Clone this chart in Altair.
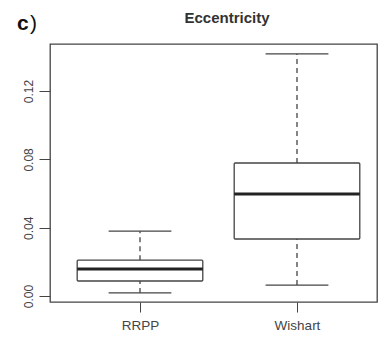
import altair as alt
import pandas as pd

groups = ["RRPP", "Wishart"]
positions = [1, 2]
lower = [0.0018, 0.0064]
q1 = [0.0088, 0.0334]
median = [0.0158, 0.0598]
q3 = [0.0210, 0.0779]
upper = [0.0380, 0.1418]
y_ticks = [0.00, 0.02, 0.04, 0.06, 0.08, 0.10, 0.12, 0.14]

df = pd.DataFrame({"group": groups, "pos": positions, "lower": lower, "q1": q1,
                   "median": median, "q3": q3, "upper": upper})

FONT = "Liberation Sans"
LINE = "#444444"

xscale = alt.Scale(domain=[0.4268, 2.5096], nice=False, zero=False)
yscale = alt.Scale(domain=[-0.0035, 0.1476], nice=False, zero=False)

base = alt.Chart(df).transform_calculate(
    bl="datum.pos - 0.4", br="datum.pos + 0.4",
    cl="datum.pos - 0.2", cr="datum.pos + 0.2")

xaxis = alt.Axis(values=positions, labelExpr="datum.value == 1 ? 'RRPP' : 'Wishart'",
                 title=None, grid=False, domain=False, tickSize=10, tickColor=LINE,
                 labelFont=FONT, labelFontSize=13.5, labelColor="#444", labelPadding=6)
yaxis = alt.Axis(values=y_ticks, labelExpr="(round(datum.value*100) % 4 == 0) ? format(datum.value, '.2f') : ''",
                 title=None, grid=False, domain=False, tickSize=11, tickColor=LINE,
                 labelAngle=270, labelAlign="center", labelBaseline="bottom",
                 labelFont=FONT, labelFontSize=12, labelColor="#444", labelPadding=4)

axes = base.mark_point(opacity=0).encode(
    x=alt.X("pos:Q", scale=xscale, axis=xaxis),
    y=alt.Y("median:Q", scale=yscale, axis=yaxis))

whisk_up = base.mark_rule(color=LINE, strokeWidth=1.3, strokeDash=[5, 4]).encode(
    x=alt.X("pos:Q", scale=xscale), y=alt.Y("q3:Q", scale=yscale), y2="upper:Q")
whisk_lo = base.mark_rule(color=LINE, strokeWidth=1.3, strokeDash=[5, 4]).encode(
    x=alt.X("pos:Q", scale=xscale), y=alt.Y("lower:Q", scale=yscale), y2="q1:Q")
cap_up = base.mark_rule(color=LINE, strokeWidth=1.3).encode(
    x=alt.X("cl:Q", scale=xscale), x2="cr:Q", y=alt.Y("upper:Q", scale=yscale))
cap_lo = base.mark_rule(color=LINE, strokeWidth=1.3).encode(
    x=alt.X("cl:Q", scale=xscale), x2="cr:Q", y=alt.Y("lower:Q", scale=yscale))
box = base.mark_rect(fill="white", stroke=LINE, strokeWidth=1.3, cornerRadius=1).encode(
    x=alt.X("bl:Q", scale=xscale), x2="br:Q",
    y=alt.Y("q1:Q", scale=yscale), y2="q3:Q")
med = base.mark_rule(color="#222222", strokeWidth=3).encode(
    x=alt.X("bl:Q", scale=xscale), x2="br:Q", y=alt.Y("median:Q", scale=yscale))

label = alt.Chart(pd.DataFrame({"t": ["c"]})).mark_text(
    font=FONT, fontSize=21, fontWeight="bold", color="#111", align="left", baseline="alphabetic"
).encode(text="t:N", x=alt.value(-33), y=alt.value(-14))
paren = alt.Chart(pd.DataFrame({"t": [")"]})).mark_text(
    font=FONT, fontSize=21, color="#111", align="left", baseline="alphabetic"
).encode(text="t:N", x=alt.value(-20), y=alt.value(-14))
title = alt.Chart(pd.DataFrame({"t": ["Eccentricity"]})).mark_text(
    font=FONT, fontSize=15, fontWeight="bold", color="#333", align="center", baseline="alphabetic"
).encode(text="t:N", x=alt.value(177), y=alt.value(-21))

chart = alt.layer(axes, whisk_up, whisk_lo, cap_up, cap_lo, box, med, label, paren, title).properties(
    width=327, height=258,
    autosize=alt.AutoSizeParams(type="none"),
    padding={"left": 50, "top": 44, "right": 1, "bottom": 36},
).configure_view(stroke=LINE, strokeWidth=1.3)

chart.save("out.html", embed_options={"renderer": "svg", "actions": False})
